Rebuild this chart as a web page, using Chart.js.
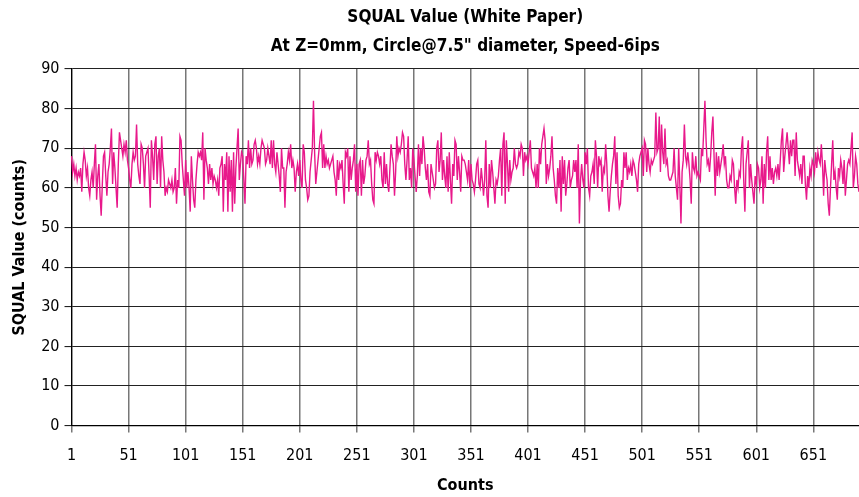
<!DOCTYPE html>
<html>
<head>
<meta charset="utf-8">
<script src="https://cdn.jsdelivr.net/npm/chart.js@4"></script>
<style>
  html, body { margin: 0; padding: 0; background: #fff; }
  canvas { display: block; }
</style>
</head>
<body>
<canvas id="grafico" width="859" height="497"></canvas>
<script>
const titleLines = ['SQUAL Value (White Paper)', 'At Z=0mm, Circle@7.5" diameter, Speed-6ips'];
const xTitle = 'Counts';
const yTitle = 'SQUAL Value (counts)';
const yTicks = [0, 10, 20, 30, 40, 50, 60, 70, 80, 90];
const xLabelStep = 50;

// SQUAL reading for each count
const squalValues = [
    68,64,66,63,65,62,64,63,65,59, 66,69,67,63,65,60,58,62,64,60,
    66,71,57,63,66,58,53,61,68,69, 63,58,64,66,70,75,61,69,65,60,
    55,66,74,72,70,68,71,69,72,67, 65,62,60,66,69,67,
    68,76,66,63,61,71,70,66,60,68, 69,70,63,55,72,68,62,71,73,61,
    68,70,60,73,67,64,58,60,59,62, 61,60,62,59,60,65,56,62,60,73,
    72,66,62,58,67,60,64,60,54,68, 62,57,55,62,66,69,68,
    69,67,74,57,70,67,65,61,66,62, 65,61,63,62,60,62,58,65,66,68,
    54,66,62,69,54,68,59,67,54,69, 56,65,70,75,62,66,69,68,62,56,
    68,66,72,65,70,66,67,71,72,70, 66,68,66,70,72,71,70,66,
    67,70,68,66,72,65,72,66,64,69, 66,63,59,70,65,65,55,64,66,69,
    67,71,65,67,65,59,64,66,63,67, 62,60,71,69,62,60,57,58,64,67,
    70,82,69,61,64,67,70,73,74,65, 71,65,68,66,67,65,66,67,
    68,64,62,58,67,62,66,65,67,61, 56,69,68,70,59,68,62,65,67,71,
    59,66,58,66,67,58,67,61,63,67, 68,72,66,67,61,57,56,69,67,69,
    68,66,68,62,60,69,61,66,61,59, 65,71,68,66,58,64,73,68,
    70,69,71,74,73,66,62,67,73,62, 65,60,70,67,63,59,63,71,63,70,
    66,73,70,65,62,66,59,58,66,64, 62,60,61,70,72,64,67,74,62,67,
    63,60,68,59,69,62,56,66,63,72, 71,62,68,64,59,68,67,67,
    66,64,62,67,60,66,62,61,59,62, 66,67,61,60,65,62,58,62,72,58,
    55,66,60,67,64,60,56,62,61,63, 67,70,58,71,74,56,72,66,59,67,
    62,64,65,70,66,65,66,69,68,71, 70,63,69,67,68,66,69,72,
    65,64,63,65,60,66,60,70,66,71, 73,75,72,61,66,63,65,68,73,65,
    62,58,56,65,60,67,54,68,61,67, 58,61,65,67,60,62,63,67,64,67,
    60,71,51,62,66,62,60,69,66,70, 60,58,63,64,66,61,72,68,
    60,68,66,67,59,65,64,71,66,58, 54,59,63,66,68,73,61,69,58,55,
    56,62,60,69,65,69,62,65,64,66, 63,67,66,64,62,59,66,68,69,70,
    63,72,71,64,70,66,64,67,66,67, 68,79,69,70,78,64,76,69,
    66,75,66,67,63,62,62,63,64,70, 63,60,57,70,61,51,64,67,76,68,
    66,69,66,62,56,69,65,64,68,63, 64,63,62,70,68,75,82,72,66,67,
    64,68,74,78,68,58,69,63,68,64, 66,68,71,66,68,62,60,60,
    63,62,67,66,60,56,62,60,64,63, 70,73,62,54,66,69,72,60,66,62,
    59,56,63,61,66,65,60,62,68,56, 66,60,69,73,62,68,62,65,61,64,
    65,63,66,62,67,72,75,64,68,71, 74,70,66,72,68,72,72,63,
    74,67,65,63,66,61,68,68,61,57, 63,60,65,63,67,66,64,69,65,69,
    67,66,71,66,58,67,64,62,56,53, 60,66,72,62,64,60,57,65,63,67,
    65,61,67,58,62,66,67,66,70,74, 60,63,68,66,61,59
];

const counts = squalValues.map((v, i) => String(i + 1));

const fonte = "'Liberation Sans Narrow', 'DejaVu Sans Condensed', 'Roboto Condensed', 'Arial Narrow', sans-serif";

const tituloPlugin = {
    id: 'tituloPlugin',
    afterDraw(chart) {
        const ctx = chart.ctx;
        const area = chart.chartArea;
        const cx = (area.left + area.right) / 2;
        ctx.save();
        ctx.fillStyle = '#000';
        ctx.textAlign = 'center';
        ctx.textBaseline = 'middle';
        ctx.font = 'bold 17px ' + fonte;
        ctx.fillText(titleLines[0], cx, 18);
        ctx.fillText(titleLines[1], cx, 47);
        ctx.restore();
    }
};

const ctx = document.getElementById('grafico').getContext('2d');

new Chart(ctx, {
    type: 'line',
    data: {
        labels: counts,
        datasets: [{
            label: 'SQUAL',
            data: squalValues,
            borderColor: '#e8198b',
            borderWidth: 1.4,
            pointRadius: 0,
            tension: 0,
            fill: false
        }]
    },
    options: {
        responsive: false,
        animation: false,
        layout: { padding: { top: 69, right: 0, left: 10, bottom: 2 } },
        plugins: {
            legend: { display: false },
            tooltip: { enabled: false },
            title: { display: false }
        },
        scales: {
            x: {
                type: 'category',
                offset: false,
                border: { color: '#000', width: 1.2 },
                grid: { color: '#777', lineWidth: 1.5, tickLength: 7, drawTicks: true },
                ticks: {
                    autoSkip: false,
                    maxRotation: 0,
                    padding: 14,
                    color: '#000',
                    font: { family: fonte, size: 16 },
                    callback: function (value, index) {
                        return index % xLabelStep === 0 ? counts[index] : null;
                    }
                },
                title: {
                    display: true,
                    text: xTitle,
                    color: '#000',
                    font: { family: fonte, size: 16, weight: 'bold' },
                    padding: { top: -4, bottom: 0 }
                }
            },
            y: {
                min: yTicks[0],
                max: yTicks[yTicks.length - 1],
                border: { color: '#000', width: 1.2 },
                grid: { color: '#222', lineWidth: 1.1, tickLength: 7 },
                afterBuildTicks: function (axis) {
                    axis.ticks = yTicks.map(v => ({ value: v }));
                },
                ticks: {
                    padding: 5,
                    color: '#000',
                    font: { family: fonte, size: 16 }
                },
                title: {
                    display: true,
                    text: yTitle,
                    color: '#000',
                    font: { family: fonte, size: 16, weight: 'bold' },
                    padding: { top: 0, bottom: 7 }
                }
            }
        }
    },
    plugins: [tituloPlugin]
});
</script>
</body>
</html>
